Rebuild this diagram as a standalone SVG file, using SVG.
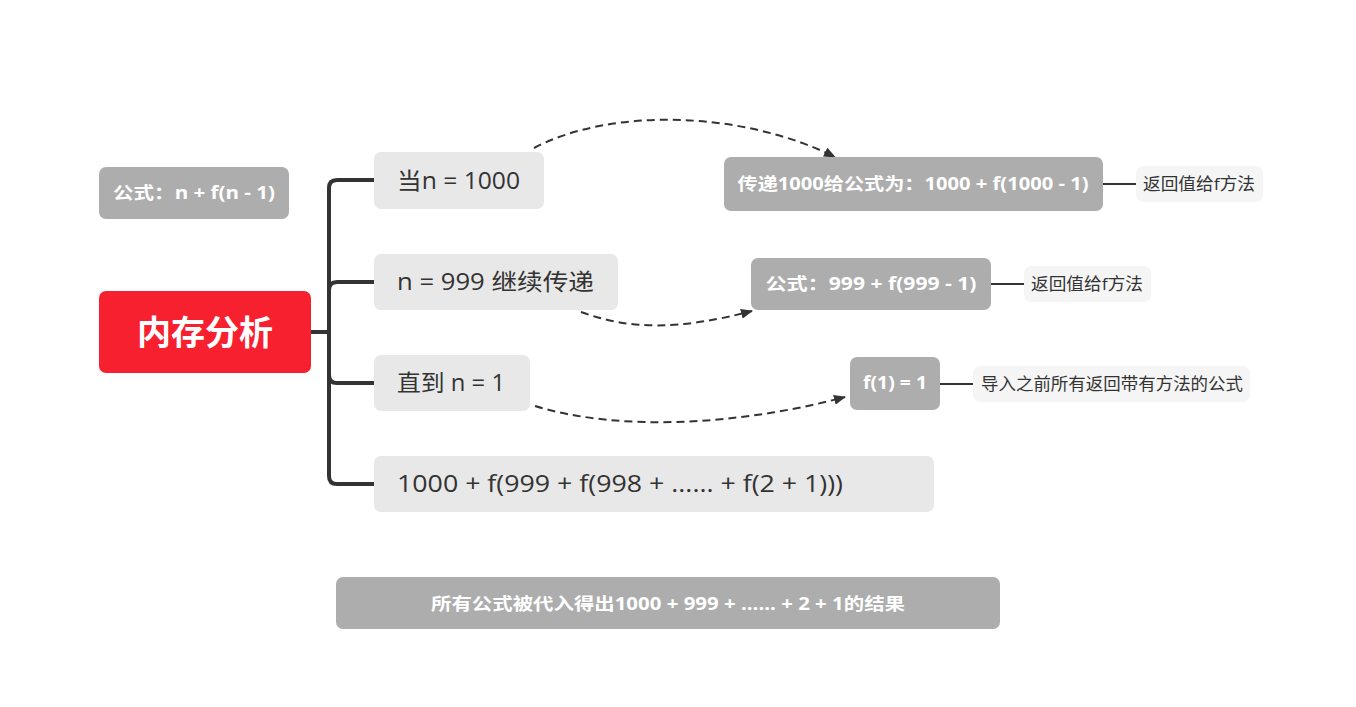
<svg xmlns="http://www.w3.org/2000/svg" width="1356" height="707" viewBox="0 0 1356 707">
<defs>
<style>
.gray{fill:#adadad}
.light{fill:#e8e8e8}
.pale{fill:#f5f5f5}
.wt{fill:#ffffff;font-family:"Open Sans","Noto Sans CJK SC",sans-serif;font-weight:bold;font-size:17px}
.dt{fill:#333333;font-family:"Open Sans","Noto Sans CJK SC",sans-serif;font-size:23px}
.st{fill:#333333;font-family:"Open Sans","Noto Sans CJK SC",sans-serif;font-size:17px}
.trunk{fill:none;stroke:#333333;stroke-width:4}
.dash{fill:none;stroke:#333333;stroke-width:2;stroke-dasharray:8 5}
.thin{fill:none;stroke:#333333;stroke-width:2}
</style>
<marker id="arrow" viewBox="0 0 12 10" refX="11" refY="5" markerWidth="12" markerHeight="10" orient="auto" markerUnits="userSpaceOnUse">
<path d="M0,0 L12,5 L0,10 z" fill="#333333"/>
</marker>
</defs>
<rect width="1356" height="707" fill="#ffffff"/>
<g id="connectors">
<path class="trunk" d="M311,332 H329"/>
<path class="trunk" d="M374,180 H337 Q329,180 329,188 V476 Q329,484 337,484 H374"/>
<path class="trunk" d="M329,290 Q329,282 337,282 H374"/>
<path class="trunk" d="M329,375 Q329,383 337,383 H374"/>
<path class="dash" marker-end="url(#arrow)" d="M534,148 C610,108 740,110 835,157"/>
<path class="dash" marker-end="url(#arrow)" d="M581,312 C630,330 680,330 752,311"/>
<path class="dash" marker-end="url(#arrow)" d="M535,406 C620,432 740,425 845,397"/>
<path class="thin" d="M1103,184 H1136"/>
<path class="thin" d="M991,284 H1024"/>
<path class="thin" d="M940,384 H973"/>
</g>
<g id="formula">
<rect class="gray" x="99" y="167" width="190" height="52" rx="7"/>
<text class="wt" x="194" y="199" text-anchor="middle" textLength="162" lengthAdjust="spacingAndGlyphs">公式：n + f(n - 1)</text>
</g>
<g id="root">
<rect x="99" y="291" width="212" height="82" rx="7" fill="#f7202f"/>
<text x="205" y="345" text-anchor="middle" fill="#ffffff" font-family="'Open Sans','Noto Sans CJK SC',sans-serif" font-weight="bold" font-size="34">内存分析</text>
</g>
<g id="n1000">
<rect class="light" x="374" y="152" width="170" height="57" rx="7"/>
<text class="dt" x="397" y="189" textLength="123" lengthAdjust="spacingAndGlyphs">当n = 1000</text>
</g>
<g id="n999">
<rect class="light" x="374" y="254" width="244" height="56" rx="7"/>
<text class="dt" x="397" y="290" textLength="197" lengthAdjust="spacingAndGlyphs">n = 999 继续传递</text>
</g>
<g id="n1">
<rect class="light" x="374" y="355" width="156" height="56" rx="7"/>
<text class="dt" x="397" y="391" textLength="108" lengthAdjust="spacingAndGlyphs">直到 n = 1</text>
</g>
<g id="expr">
<rect class="light" x="374" y="456" width="560" height="56" rx="7"/>
<text class="dt" x="397" y="492" textLength="446" lengthAdjust="spacingAndGlyphs">1000 + f(999 + f(998 + ...... + f(2 + 1)))</text>
</g>
<g id="pass1000">
<rect class="gray" x="724" y="157" width="379" height="54" rx="7"/>
<text class="wt" x="913" y="190" text-anchor="middle" textLength="351" lengthAdjust="spacingAndGlyphs">传递1000给公式为：1000 + f(1000 - 1)</text>
</g>
<g id="ret1">
<rect class="pale" x="1136" y="166" width="127" height="36" rx="7"/>
<text class="st" x="1199" y="190" text-anchor="middle" textLength="112" lengthAdjust="spacingAndGlyphs">返回值给f方法</text>
</g>
<g id="f999">
<rect class="gray" x="751" y="258" width="240" height="52" rx="7"/>
<text class="wt" x="871" y="290" text-anchor="middle" textLength="211" lengthAdjust="spacingAndGlyphs">公式：999 + f(999 - 1)</text>
</g>
<g id="ret2">
<rect class="pale" x="1024" y="266" width="127" height="36" rx="7"/>
<text class="st" x="1087" y="290" text-anchor="middle" textLength="112" lengthAdjust="spacingAndGlyphs">返回值给f方法</text>
</g>
<g id="f1">
<rect class="gray" x="850" y="357" width="90" height="53" rx="7"/>
<text class="wt" x="895" y="389" text-anchor="middle" textLength="64" lengthAdjust="spacingAndGlyphs">f(1) = 1</text>
</g>
<g id="import">
<rect class="pale" x="973" y="366" width="277" height="36" rx="7"/>
<text class="st" x="1112" y="390" text-anchor="middle" textLength="262" lengthAdjust="spacingAndGlyphs">导入之前所有返回带有方法的公式</text>
</g>
<g id="result">
<rect class="gray" x="336" y="577" width="664" height="52" rx="7"/>
<text class="wt" x="668" y="610" text-anchor="middle" textLength="474" lengthAdjust="spacingAndGlyphs">所有公式被代入得出1000 + 999 + ...... + 2 + 1的结果</text>
</g>
</svg>
